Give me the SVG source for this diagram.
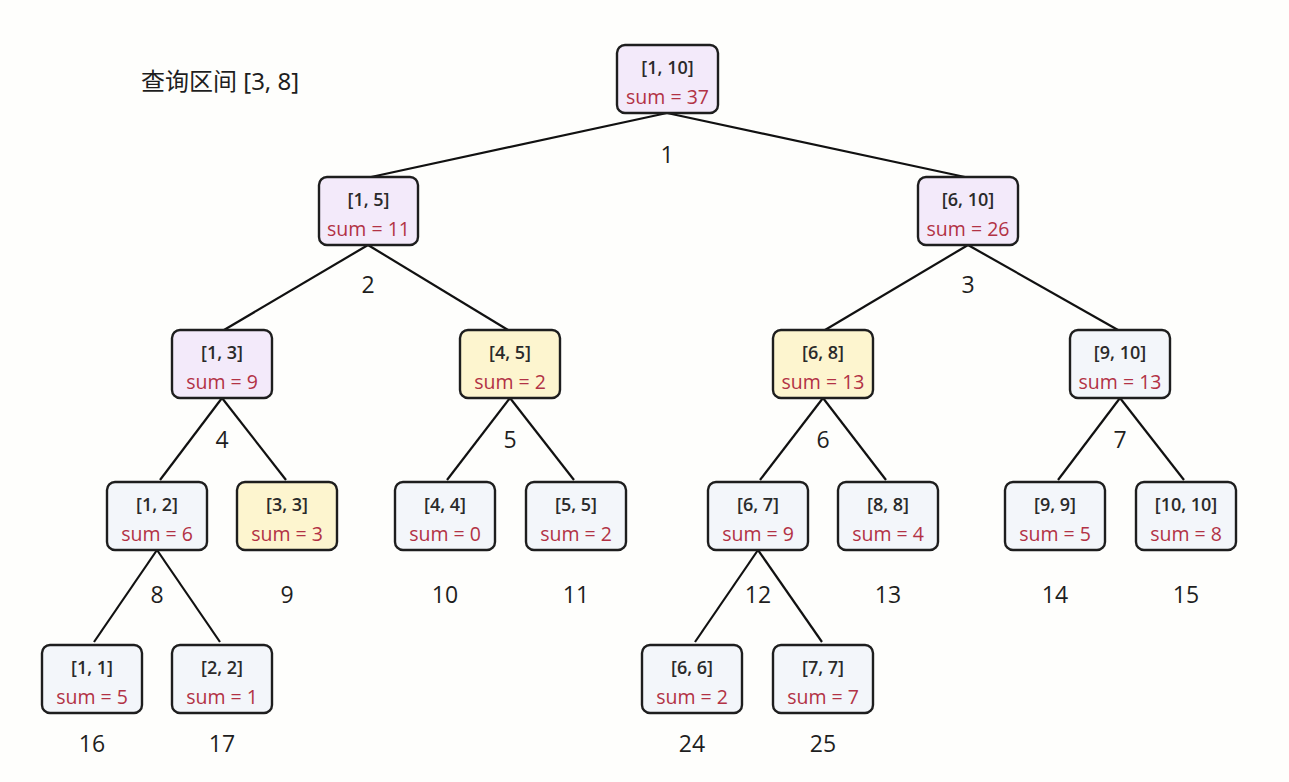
<svg xmlns="http://www.w3.org/2000/svg" width="1289" height="782" viewBox="0 0 1289 782">
<style>
.bg{fill:#fefefc}
.box rect{stroke:#1e1e1e;stroke-width:2.4}
.p rect{fill:#f3eafa}
.y rect{fill:#fdf5cf}
.w rect{fill:#f3f6fa}
.rg{font-family:"Open Sans","Noto Sans",sans-serif;font-size:18px;font-weight:600;fill:#2a2a2a;text-anchor:middle}
.sm{font-family:"Open Sans","Noto Sans",sans-serif;font-size:19.5px;fill:#b23245;text-anchor:middle}
.num{font-family:"Open Sans","Noto Sans",sans-serif;font-size:23px;fill:#1e1e1e;text-anchor:middle}
.title{font-family:"Noto Sans","Noto Sans CJK SC",sans-serif;font-size:24px;fill:#1e1e1e}
#edges line{stroke:#111;stroke-width:2.2}
</style>
<rect class="bg" x="0" y="0" width="1289" height="782"/>
<text class="title" x="141" y="90">查询区间 [3, 8]</text>
<g id="edges">
<line x1="667" y1="113" x2="371" y2="177"/>
<line x1="667" y1="113" x2="965" y2="177"/>
<line x1="368" y1="245" x2="224" y2="330"/>
<line x1="368" y1="245" x2="508" y2="330"/>
<line x1="968" y1="245" x2="825" y2="330"/>
<line x1="968" y1="245" x2="1118" y2="330"/>
<line x1="222" y1="398" x2="160" y2="480"/>
<line x1="222" y1="398" x2="286" y2="480"/>
<line x1="510" y1="398" x2="447" y2="480"/>
<line x1="510" y1="398" x2="574" y2="480"/>
<line x1="823" y1="398" x2="760" y2="480"/>
<line x1="823" y1="398" x2="886" y2="480"/>
<line x1="1120" y1="398" x2="1058" y2="480"/>
<line x1="1120" y1="398" x2="1184" y2="480"/>
<line x1="157" y1="550" x2="94" y2="642"/>
<line x1="157" y1="550" x2="220" y2="642"/>
<line x1="758" y1="550" x2="695" y2="642"/>
<line x1="758" y1="550" x2="822" y2="642"/>
</g>
<g id="n1" class="box p"><rect x="617" y="45" width="101" height="68" rx="8"/><text class="rg" x="667.5" y="74">[1, 10]</text><text class="sm" x="667.5" y="104">sum = 37</text></g>
<g id="n2" class="box p"><rect x="319" y="177" width="99" height="68" rx="8"/><text class="rg" x="368.5" y="206">[1, 5]</text><text class="sm" x="368.5" y="236">sum = 11</text></g>
<g id="n3" class="box p"><rect x="918" y="177" width="100" height="68" rx="8"/><text class="rg" x="968" y="206">[6, 10]</text><text class="sm" x="968" y="236">sum = 26</text></g>
<g id="n4" class="box p"><rect x="172" y="330" width="100" height="68" rx="8"/><text class="rg" x="222" y="359">[1, 3]</text><text class="sm" x="222" y="389">sum = 9</text></g>
<g id="n5" class="box y"><rect x="460" y="330" width="100" height="68" rx="8"/><text class="rg" x="510" y="359">[4, 5]</text><text class="sm" x="510" y="389">sum = 2</text></g>
<g id="n6" class="box y"><rect x="773" y="330" width="100" height="68" rx="8"/><text class="rg" x="823" y="359">[6, 8]</text><text class="sm" x="823" y="389">sum = 13</text></g>
<g id="n7" class="box w"><rect x="1070" y="330" width="100" height="68" rx="8"/><text class="rg" x="1120" y="359">[9, 10]</text><text class="sm" x="1120" y="389">sum = 13</text></g>
<g id="n8" class="box w"><rect x="107" y="482" width="100" height="68" rx="8"/><text class="rg" x="157" y="511">[1, 2]</text><text class="sm" x="157" y="541">sum = 6</text></g>
<g id="n9" class="box y"><rect x="237" y="482" width="100" height="68" rx="8"/><text class="rg" x="287" y="511">[3, 3]</text><text class="sm" x="287" y="541">sum = 3</text></g>
<g id="n10" class="box w"><rect x="395" y="482" width="100" height="68" rx="8"/><text class="rg" x="445" y="511">[4, 4]</text><text class="sm" x="445" y="541">sum = 0</text></g>
<g id="n11" class="box w"><rect x="526" y="482" width="100" height="68" rx="8"/><text class="rg" x="576" y="511">[5, 5]</text><text class="sm" x="576" y="541">sum = 2</text></g>
<g id="n12" class="box w"><rect x="708" y="482" width="100" height="68" rx="8"/><text class="rg" x="758" y="511">[6, 7]</text><text class="sm" x="758" y="541">sum = 9</text></g>
<g id="n13" class="box w"><rect x="838" y="482" width="100" height="68" rx="8"/><text class="rg" x="888" y="511">[8, 8]</text><text class="sm" x="888" y="541">sum = 4</text></g>
<g id="n14" class="box w"><rect x="1005" y="482" width="100" height="68" rx="8"/><text class="rg" x="1055" y="511">[9, 9]</text><text class="sm" x="1055" y="541">sum = 5</text></g>
<g id="n15" class="box w"><rect x="1136" y="482" width="100" height="68" rx="8"/><text class="rg" x="1186" y="511">[10, 10]</text><text class="sm" x="1186" y="541">sum = 8</text></g>
<g id="n16" class="box w"><rect x="42" y="645" width="100" height="68" rx="8"/><text class="rg" x="92" y="674">[1, 1]</text><text class="sm" x="92" y="704">sum = 5</text></g>
<g id="n17" class="box w"><rect x="172" y="645" width="100" height="68" rx="8"/><text class="rg" x="222" y="674">[2, 2]</text><text class="sm" x="222" y="704">sum = 1</text></g>
<g id="n24" class="box w"><rect x="642" y="645" width="100" height="68" rx="8"/><text class="rg" x="692" y="674">[6, 6]</text><text class="sm" x="692" y="704">sum = 2</text></g>
<g id="n25" class="box w"><rect x="773" y="645" width="100" height="68" rx="8"/><text class="rg" x="823" y="674">[7, 7]</text><text class="sm" x="823" y="704">sum = 7</text></g>
<g id="labels">
<text class="num" x="667" y="163">1</text>
<text class="num" x="368" y="293">2</text>
<text class="num" x="968" y="293">3</text>
<text class="num" x="222" y="448">4</text>
<text class="num" x="510" y="448">5</text>
<text class="num" x="823" y="448">6</text>
<text class="num" x="1120" y="448">7</text>
<text class="num" x="157" y="603">8</text>
<text class="num" x="287" y="603">9</text>
<text class="num" x="445" y="603">10</text>
<text class="num" x="576" y="603">11</text>
<text class="num" x="758" y="603">12</text>
<text class="num" x="888" y="603">13</text>
<text class="num" x="1055" y="603">14</text>
<text class="num" x="1186" y="603">15</text>
<text class="num" x="92" y="752">16</text>
<text class="num" x="222" y="752">17</text>
<text class="num" x="692" y="752">24</text>
<text class="num" x="823" y="752">25</text>
</g>
</svg>
